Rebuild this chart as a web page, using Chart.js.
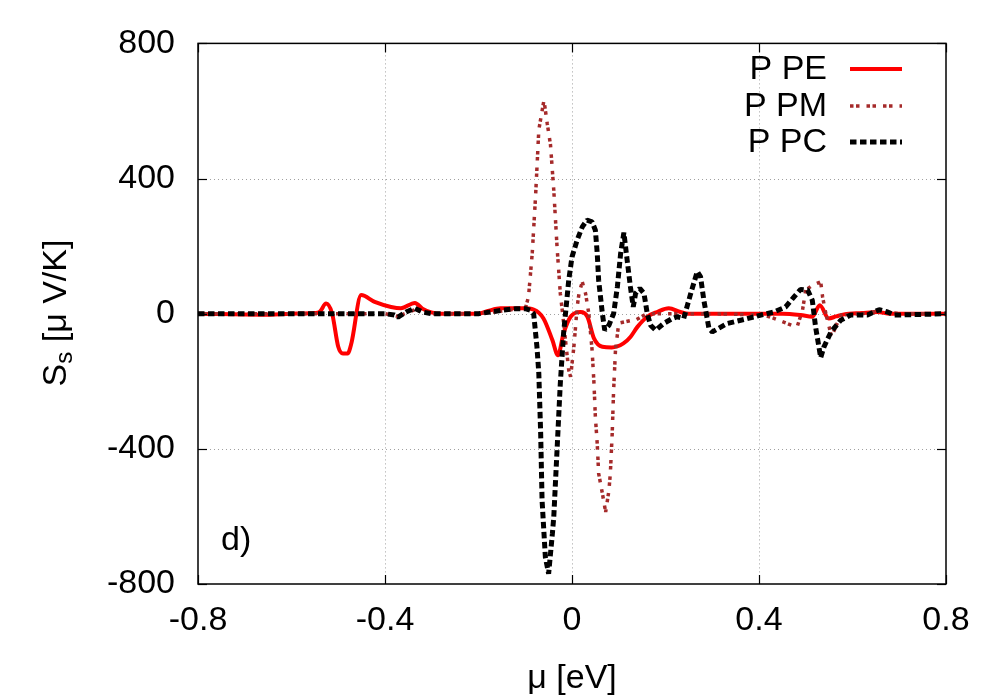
<!DOCTYPE html>
<html>
<head>
<meta charset="utf-8">
<script src="https://cdn.jsdelivr.net/npm/chart.js@4.4.1/dist/chart.umd.min.js"></script>
<style>
html,body{margin:0;padding:0;background:#fff;}
#wrap{width:1000px;height:700px;}
</style>
</head>
<body>
<div id="wrap"><canvas id="c" width="1000" height="700"></canvas></div>
<script>
// ---- data ----
const seriesNames = ['P PE', 'P PM', 'P PC'];

const xPE = [-0.8,-0.66,-0.6,-0.55,-0.54,-0.526,-0.513,-0.5,-0.49,-0.48,-0.472,-0.451,-0.422,-0.387,-0.366,-0.336,-0.32,-0.301,-0.28,-0.2,-0.18,-0.153,-0.104,-0.082,-0.061,-0.042,-0.03,-0.018,-0.003,0.018,0.033,0.047,0.065,0.085,0.11,0.125,0.14,0.161,0.182,0.207,0.232,0.25,0.45,0.489,0.514,0.53,0.549,0.565,0.582,0.62,0.654,0.68,0.8];
const yPE = [0,-3,0,2,5,30,0,-98,-118,-118,-88,55,35,20,16,32,15,4,0,0,8,16,16,12,-14,-78,-123,-58,-9,5,-9,-73,-98,-100,-88,-69,-39,-9,5,16,5,0,0,-4,-9,25,-14,-8,-2,2,5,0,0];

const xPM = [-0.8,-0.4,-0.372,-0.336,-0.3,-0.2,-0.15,-0.13,-0.1,-0.093,-0.085,-0.078,-0.071,-0.06,-0.053,-0.046,-0.039,-0.032,-0.025,-0.02,-0.014,-0.007,-0.003,0.004,0.007,0.011,0.015,0.022,0.029,0.036,0.043,0.047,0.05,0.054,0.057,0.065,0.072,0.079,0.082,0.086,0.089,0.093,0.1,0.129,0.136,0.16,0.2,0.3,0.411,0.432,0.475,0.482,0.493,0.5,0.514,0.532,0.536,0.543,0.55,0.555,0.564,0.575,0.62,0.657,0.7,0.8];
const yPM = [0,0,-8,12,0,0,8,12,15,50,180,346,544,632,563,500,366,198,60,0,-78,-167,-187,-98,-49,20,60,94,60,0,-108,-206,-306,-385,-473,-532,-587,-523,-473,-355,-227,-108,-28,-19,-19,0,0,0,-4,-14,-37,-37,10,70,84,94,50,0,-39,-69,-39,-4,0,8,0,0];

const xPC = [-0.8,-0.4,-0.38,-0.372,-0.355,-0.336,-0.32,-0.3,-0.2,-0.15,-0.12,-0.1,-0.089,-0.082,-0.075,-0.071,-0.067,-0.064,-0.057,-0.05,-0.042,-0.039,-0.032,-0.025,-0.018,-0.007,0,0.011,0.022,0.032,0.043,0.05,0.054,0.057,0.065,0.07,0.079,0.089,0.097,0.104,0.111,0.118,0.125,0.131,0.136,0.145,0.154,0.161,0.168,0.179,0.196,0.215,0.225,0.239,0.254,0.268,0.275,0.282,0.293,0.3,0.332,0.368,0.404,0.432,0.457,0.475,0.489,0.504,0.514,0.521,0.532,0.539,0.554,0.575,0.596,0.632,0.657,0.675,0.689,0.75,0.8];
const yPC = [0,0,-4,-10,5,16,5,0,0,10,15,15,10,0,-98,-176,-355,-553,-720,-770,-651,-602,-404,-206,-58,99,168,218,257,277,272,247,178,99,0,-49,-34,0,79,178,240,158,79,20,60,75,60,0,-34,-49,-29,-14,-9,-14,60,125,109,40,-44,-54,-29,-17,-4,5,20,50,72,70,40,-39,-130,-98,-54,-19,-4,-4,12,5,-4,-2,0];

const xTickValues = [-0.8, -0.4, 0, 0.4, 0.8];
const xTickLabels = ['-0.8', '-0.4', '0', '0.4', '0.8'];
const yTickValues = [-800, -400, 0, 400, 800];
const yTickLabels = ['-800', '-400', '0', '400', '800'];

const panelLabel = 'd)';
const xTitle = 'μ [eV]';
const yTitleMain = 'S';
const yTitleSub = 's';
const yTitleRest = ' [μ V/K]';

// ---- build ----
function pts(xs, ys){ return xs.map((x,i)=>({x:x, y:ys[i]})); }
const FONT = '"Liberation Sans", Arial, sans-serif';

const styles = [
  {color:'#ff0000', width:4, dash:[], mono:true},
  {color:'#a52a2a', width:3.5, dash:[3.5,2.5,3.5,7], mono:false},
  {color:'#000000', width:5, dash:[6.5,3.5], mono:false}
];

const datasets = [
  {label:seriesNames[0], data:pts(xPE,yPE), order:2},
  {label:seriesNames[1], data:pts(xPM,yPM), order:1},
  {label:seriesNames[2], data:pts(xPC,yPC), order:0}
].map((d,i)=>Object.assign(d,{
  showLine:true, pointRadius:0, pointHoverRadius:0, tension:0,
  cubicInterpolationMode: styles[i].mono ? 'monotone' : 'default',
  borderColor:styles[i].color, backgroundColor:styles[i].color,
  borderWidth:styles[i].width, borderDash:styles[i].dash,
  borderCapStyle:'butt', borderJoinStyle:'bevel', fill:false
}));

const decor = {
  id:'decor',
  beforeDatasetsDraw(chart){
    const {ctx, chartArea:a, scales:{x,y}} = chart;
    ctx.save();
    ctx.strokeStyle = '#a0a0a0';
    ctx.lineWidth = 1;
    ctx.setLineDash([1,3]);
    xTickValues.forEach(v=>{
      const px = Math.round(x.getPixelForValue(v))+0.5;
      if (px < a.left+2 || px > a.right-2) return;
      ctx.beginPath(); ctx.moveTo(px,a.top); ctx.lineTo(px,a.bottom); ctx.stroke();
    });
    yTickValues.forEach(v=>{
      const py = Math.round(y.getPixelForValue(v))+0.5;
      if (py < a.top+2 || py > a.bottom-2) return;
      ctx.beginPath(); ctx.moveTo(a.left,py); ctx.lineTo(a.right,py); ctx.stroke();
    });
    ctx.restore();
  },
  afterDatasetsDraw(chart){
    const {ctx, chartArea:a, scales:{x,y}} = chart;
    ctx.save();
    ctx.strokeStyle = '#000'; ctx.lineWidth = 1.5; ctx.setLineDash([]);
    ctx.strokeRect(a.left, a.top, a.right-a.left, a.bottom-a.top);
    ctx.lineWidth = 1.2;
    const tl = 9;
    xTickValues.forEach(v=>{
      const px = Math.round(x.getPixelForValue(v))+0.5;
      ctx.beginPath(); ctx.moveTo(px,a.bottom); ctx.lineTo(px,a.bottom-tl); ctx.stroke();
      ctx.beginPath(); ctx.moveTo(px,a.top); ctx.lineTo(px,a.top+tl); ctx.stroke();
    });
    yTickValues.forEach(v=>{
      const py = Math.round(y.getPixelForValue(v))+0.5;
      ctx.beginPath(); ctx.moveTo(a.left,py); ctx.lineTo(a.left+tl,py); ctx.stroke();
      ctx.beginPath(); ctx.moveTo(a.right,py); ctx.lineTo(a.right-tl,py); ctx.stroke();
    });
    ctx.font = '34px ' + FONT;
    ctx.fillStyle = '#000';
    ctx.textAlign = 'right'; ctx.textBaseline = 'middle';
    const rows = [69, 106, 142];
    chart.data.datasets.forEach((d,i)=>{
      ctx.fillText(d.label, 827, rows[i]+1);
      ctx.save();
      ctx.strokeStyle = d.borderColor; ctx.lineWidth = d.borderWidth;
      ctx.setLineDash(d.borderDash); ctx.lineCap = 'butt';
      ctx.beginPath(); ctx.moveTo(850, rows[i]); ctx.lineTo(902, rows[i]); ctx.stroke();
      ctx.restore();
    });
    ctx.textAlign = 'left';
    ctx.fillText(panelLabel, 221, 541);
    ctx.restore();
  },
  afterDraw(chart){
    const {ctx} = chart;
    ctx.save();
    ctx.fillStyle = '#000';
    ctx.textBaseline = 'middle';
    ctx.textAlign = 'center';
    ctx.font = '34px ' + FONT;
    ctx.fillText(xTitle, 572, 679);
    ctx.translate(57, 313);
    ctx.rotate(-Math.PI/2);
    const big = '34px ' + FONT, small = '24px ' + FONT;
    ctx.font = big; const w1 = ctx.measureText(yTitleMain).width;
    ctx.font = small; const w2 = ctx.measureText(yTitleSub).width;
    ctx.font = big; const w3 = ctx.measureText(yTitleRest).width;
    let sx = -(w1+w2+w3)/2;
    ctx.textAlign = 'left';
    ctx.font = big; ctx.fillText(yTitleMain, sx, 0); sx += w1;
    ctx.font = small; ctx.fillText(yTitleSub, sx, 8); sx += w2;
    ctx.font = big; ctx.fillText(yTitleRest, sx, 0);
    ctx.restore();
  }
};

new Chart(document.getElementById('c'), {
  type:'scatter',
  data:{datasets},
  options:{
    responsive:false, animation:false, devicePixelRatio:1,
    layout:{padding:{left:0, right:54, top:43, bottom:0}},
    plugins:{legend:{display:false}, tooltip:{enabled:false}},
    scales:{
      x:{
        type:'linear', min:-0.8, max:0.8,
        afterFit(s){ s.height = 116; },
        afterBuildTicks(s){ s.ticks = xTickValues.map(v=>({value:v})); },
        grid:{display:false, drawTicks:false},
        border:{display:false},
        ticks:{
          padding:16, color:'#000', maxRotation:0, autoSkip:false,
          font:{family:FONT, size:34},
          callback:(v)=>{ const i = xTickValues.indexOf(v); return i>=0 ? xTickLabels[i] : ''; }
        }
      },
      y:{
        type:'linear', min:-800, max:800,
        afterFit(s){ s.width = 198; },
        afterBuildTicks(s){ s.ticks = yTickValues.map(v=>({value:v})); },
        grid:{display:false, drawTicks:false},
        border:{display:false},
        ticks:{
          padding:23, color:'#000', autoSkip:false,
          font:{family:FONT, size:34},
          callback:(v)=>{ const i = yTickValues.indexOf(v); return i>=0 ? yTickLabels[i] : ''; }
        }
      }
    }
  },
  plugins:[decor]
});
</script>
</body>
</html>
